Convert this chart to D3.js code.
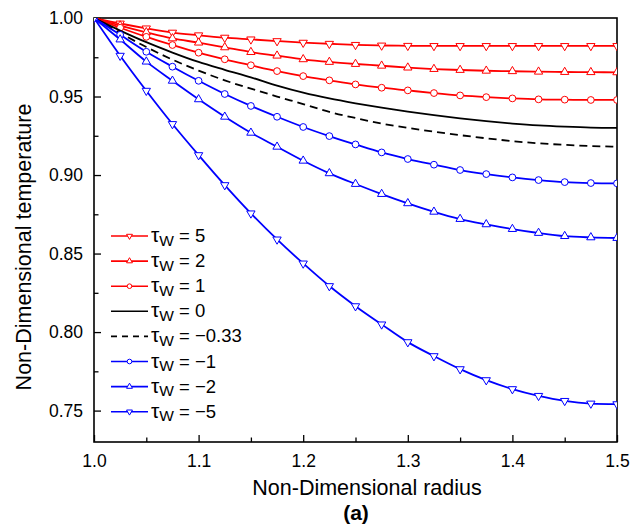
<!DOCTYPE html>
<html>
<head>
<meta charset="utf-8">
<script src="https://cdn.jsdelivr.net/npm/d3@7"></script>
<style>
  body { margin: 0; background: #fff; }
  svg { font-family: "Liberation Sans", Arial, sans-serif; }
</style>
</head>
<body>
<div id="chart"></div>
<script>
// radius positions (21 samples)
const radius = [1.0, 1.025, 1.05, 1.075, 1.1, 1.125, 1.15, 1.175, 1.2, 1.225, 1.25,
                1.275, 1.3, 1.325, 1.35, 1.375, 1.4, 1.425, 1.45, 1.475, 1.5];

const tauP5 = [1.0, 0.9965, 0.9934, 0.9907, 0.9890, 0.9875, 0.9864, 0.9853, 0.9843, 0.9836, 0.9829,
               0.9825, 0.9823, 0.9822, 0.9822, 0.9822, 0.9822, 0.9822, 0.9822, 0.9822, 0.9822];
const tauP2 = [1.0, 0.9952, 0.9909, 0.9870, 0.9843, 0.9813, 0.9783, 0.9760, 0.9737, 0.9720, 0.9707,
               0.9696, 0.9684, 0.9675, 0.9669, 0.9664, 0.9661, 0.9658, 0.9656, 0.9655, 0.9654];
const tauP1 = [1.0, 0.9938, 0.9880, 0.9828, 0.9779, 0.9737, 0.9699, 0.9662, 0.9630, 0.9603, 0.9577,
               0.9556, 0.9539, 0.9522, 0.9507, 0.9496, 0.9488, 0.9482, 0.9480, 0.9478, 0.9478];
const tau0  = [1.0, 0.9920, 0.9846, 0.9780, 0.9720, 0.9670, 0.9622, 0.9570, 0.9525, 0.9488, 0.9457,
               0.9429, 0.9404, 0.9381, 0.9361, 0.9343, 0.9328, 0.9316, 0.9308, 0.9302, 0.9300];
const tauM033 = [1.0, 0.9905, 0.9815, 0.9735, 0.9665, 0.9603, 0.9550, 0.9500, 0.9452, 0.9402, 0.9363,
                 0.9328, 0.9300, 0.9276, 0.9254, 0.9234, 0.9216, 0.9202, 0.9192, 0.9185, 0.9180];
const tauM1 = [1.0, 0.9893, 0.9785, 0.9690, 0.9600, 0.9516, 0.9440, 0.9371, 0.9306, 0.9248, 0.9195,
               0.9144, 0.9102, 0.9066, 0.9032, 0.9006, 0.8985, 0.8968, 0.8955, 0.8949, 0.8947];
const tauM2 = [1.0, 0.9863, 0.9722, 0.9600, 0.9482, 0.9371, 0.9269, 0.9180, 0.9091, 0.9011, 0.8943,
               0.8879, 0.8820, 0.8766, 0.8720, 0.8686, 0.8656, 0.8631, 0.8611, 0.8603, 0.8599];
const tauM5 = [1.0, 0.9760, 0.9537, 0.9325, 0.9127, 0.8936, 0.8756, 0.8590, 0.8437, 0.8293, 0.8165,
               0.8049, 0.7936, 0.7847, 0.7764, 0.7694, 0.7637, 0.7594, 0.7562, 0.7545, 0.7541];

const labels = ["5", "2", "1", "0", "\u22120.33", "\u22121", "\u22122", "\u22125"];
const xTicks = [1.0, 1.1, 1.2, 1.3, 1.4, 1.5];
const yTicks = [0.75, 0.80, 0.85, 0.90, 0.95, 1.00];

const series = [
  {label: labels[0], values: tauP5,   color: "#ff0000", marker: "down"},
  {label: labels[1], values: tauP2,   color: "#ff0000", marker: "up"},
  {label: labels[2], values: tauP1,   color: "#ff0000", marker: "circle"},
  {label: labels[3], values: tau0,    color: "#000000", marker: null},
  {label: labels[4], values: tauM033, color: "#000000", marker: null, dash: "8,5"},
  {label: labels[5], values: tauM1,   color: "#0000ff", marker: "circle"},
  {label: labels[6], values: tauM2,   color: "#0000ff", marker: "up"},
  {label: labels[7], values: tauM5,   color: "#0000ff", marker: "down"}
];

const width = 644, height = 532;
const margin = {top: 18, right: 27, bottom: 90, left: 94};
const w = width - margin.left - margin.right;
const h = height - margin.top - margin.bottom;

const svg = d3.select("#chart").append("svg")
  .attr("width", width)
  .attr("height", height);

svg.append("defs").append("clipPath")
  .attr("id", "clip")
  .append("rect")
  .attr("width", w)
  .attr("height", h);

const g = svg.append("g")
  .attr("transform", "translate(" + margin.left + "," + margin.top + ")");

const xScale = d3.scaleLinear().domain([1.0, 1.5]).range([0, w]);
const yScale = d3.scaleLinear().domain([0.73, 1.0]).range([h, 0]);

// minor ticks (inward)
g.append("g")
  .attr("transform", "translate(0," + h + ")")
  .call(d3.axisBottom(xScale).tickValues(d3.range(1.05, 1.5, 0.1)).tickSize(-4.5).tickFormat(""))
  .call(a => a.select(".domain").remove());
g.append("g")
  .call(d3.axisLeft(yScale).tickValues(d3.range(0.775, 1.0, 0.05)).tickSize(-4.5).tickFormat(""))
  .call(a => a.select(".domain").remove());

// major ticks
const xAxisG = g.append("g")
  .attr("transform", "translate(0," + h + ")")
  .call(d3.axisBottom(xScale).tickValues(xTicks).tickSize(-7).tickPadding(13).tickFormat(d3.format(".1f")));
const yAxisG = g.append("g")
  .call(d3.axisLeft(yScale).tickValues(yTicks).tickSize(-7).tickPadding(11).tickFormat(d3.format(".2f")));

[xAxisG, yAxisG].forEach(a => {
  a.select(".domain").remove();
  a.selectAll("text").attr("font-size", 17.5).attr("fill", "#000");
});
g.selectAll(".tick line").attr("stroke", "#000").attr("stroke-width", 1.3);

// frame
g.append("rect")
  .attr("width", w)
  .attr("height", h)
  .attr("fill", "none")
  .attr("stroke", "#000")
  .attr("stroke-width", 1.6);

const line = d3.line()
  .x((d, i) => xScale(radius[i]))
  .y(d => yScale(d))
  .curve(d3.curveMonotoneX);

function markerPath(type, big) {
  if (type === "circle") return d3.symbol(d3.symbolCircle, big ? 36 : 17)();
  return d3.symbol(d3.symbolTriangle, big ? 30 : 15)();
}

const plot = g.append("g").attr("clip-path", "url(#clip)");

series.forEach(s => {
  plot.append("path")
    .datum(s.values)
    .attr("fill", "none")
    .attr("stroke", s.color)
    .attr("stroke-width", 1.8)
    .attr("stroke-dasharray", s.dash || null)
    .attr("d", line);

  if (s.marker) {
    plot.selectAll(null)
      .data(s.values)
      .join("path")
      .attr("d", markerPath(s.marker, true))
      .attr("transform", (d, i) => "translate(" + xScale(radius[i]) + "," + yScale(d) + ")" +
        (s.marker === "down" ? " rotate(180)" : ""))
      .attr("fill", "#fff")
      .attr("stroke", s.color)
      .attr("stroke-width", 1);
  }
});

// legend
const legend = svg.append("g").attr("transform", "translate(111,236)");
series.forEach((s, i) => {
  const row = legend.append("g").attr("transform", "translate(0," + (i * 25.1) + ")");
  row.append("line")
    .attr("x1", 0).attr("x2", 37)
    .attr("stroke", s.color)
    .attr("stroke-width", 1.6)
    .attr("stroke-dasharray", s.dash ? "6,5" : null);
  if (s.marker) {
    row.append("path")
      .attr("d", markerPath(s.marker, false))
      .attr("transform", "translate(18.5,0)" + (s.marker === "down" ? " rotate(180)" : ""))
      .attr("fill", "#fff")
      .attr("stroke", s.color)
      .attr("stroke-width", 1);
  }
  const t = row.append("text")
    .attr("x", 40)
    .attr("y", 6)
    .attr("font-size", 18.5)
    .attr("fill", "#000");
  t.append("tspan").text("\u03c4").attr("font-size", 21);
  t.append("tspan").text("W").attr("font-size", 15.5).attr("dy", 3.5);
  t.append("tspan").text(" = " + s.label).attr("dy", -3.5);
});

// axis titles
svg.append("text")
  .attr("x", 367)
  .attr("y", 495)
  .attr("text-anchor", "middle")
  .attr("font-size", 21.5)
  .text("Non-Dimensional radius");

svg.append("text")
  .attr("transform", "translate(31," + (margin.top + h / 2 + 17) + ") rotate(-90)")
  .attr("text-anchor", "middle")
  .attr("font-size", 21.5)
  .text("Non-Dimensional temperature");

svg.append("text")
  .attr("x", 356)
  .attr("y", 520)
  .attr("text-anchor", "middle")
  .attr("font-size", 21)
  .attr("font-weight", "bold")
  .text("(a)");
</script>
</body>
</html>
